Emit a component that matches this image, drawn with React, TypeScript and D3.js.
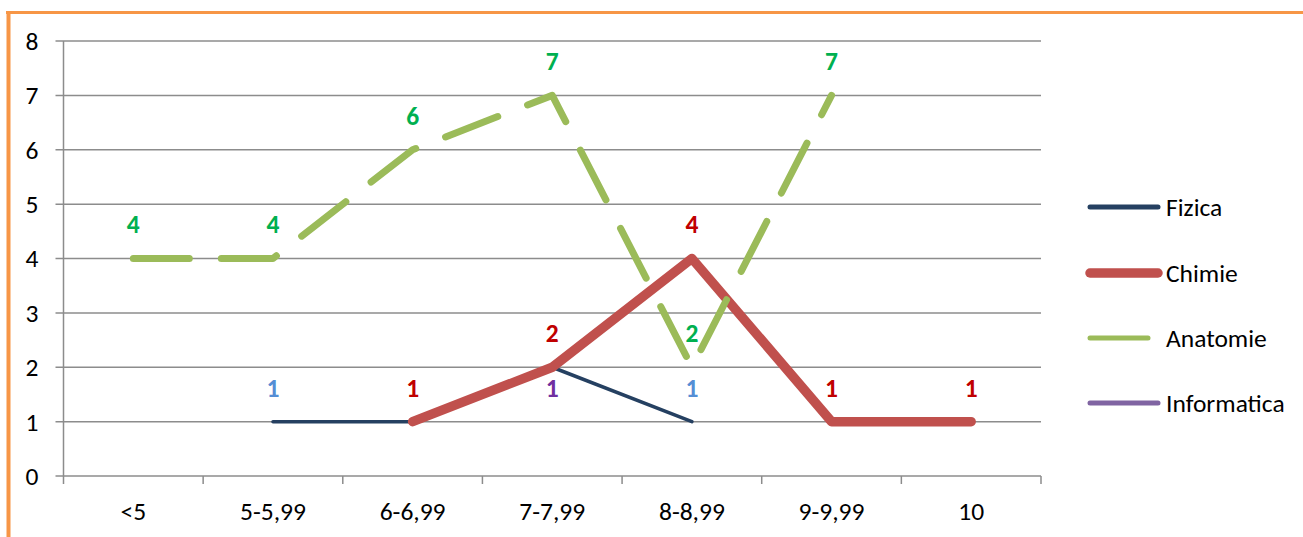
import React from "react";
import * as d3 from "d3";

const categories = ["<5", "5-5,99", "6-6,99", "7-7,99", "8-8,99", "9-9,99", "10"];
const fizica: (number | null)[] = [null, 1, 1, 2, 1, null, null];
const chimie: (number | null)[] = [null, null, 1, 2, 4, 1, 1];
const anatomie: (number | null)[] = [4, 4, 6, 7, 2, 7, null];
const informatica: (number | null)[] = [null, null, null, 1, null, null, null];
const fizicaLabels = [false, true, false, false, true, false, false];
const chimieLabels = [false, false, true, true, true, true, true];
const anatomieLabels = [true, true, true, true, true, true, false];
const informaticaLabels = [false, false, false, true, false, false, false];
const yTicks = [0, 1, 2, 3, 4, 5, 6, 7, 8];

const series = [
  { name: "Fizica", values: fizica, labels: fizicaLabels, color: "#254061", labelColor: "#558ED5", width: 3.5, dash: "" },
  { name: "Chimie", values: chimie, labels: chimieLabels, color: "#C0504D", labelColor: "#C00000", width: 9.5, dash: "" },
  { name: "Anatomie", values: anatomie, labels: anatomieLabels, color: "#9BBB59", labelColor: "#00B050", width: 7, dash: "56 32" },
  { name: "Informatica", values: informatica, labels: informaticaLabels, color: "#8064A2", labelColor: "#7030A0", width: 5, dash: "" },
];

export default function App() {
  const W = 1303, H = 537;
  const left = 63.5, right = 1041, top = 41, bottom = 476;
  const x = d3.scaleBand<string>().domain(categories).range([left, right]);
  const y = d3.scaleLinear().domain([0, 8]).range([bottom, top]);
  const cx = (i: number) => (x(categories[i]) as number) + x.bandwidth() / 2;
  const line = d3
    .line<number | null>()
    .defined((d) => d !== null)
    .x((_, i) => cx(i))
    .y((d) => y(d as number));
  const font = "Carlito, Lato, 'Liberation Sans', sans-serif";
  const fs = 25.5;
  const legendY = [207, 273, 338, 403];

  return (
    <svg width={W} height={H} style={{ position: "absolute", left: 0, top: 0 }} fontFamily={font}>
      <rect x={0} y={0} width={W} height={H} fill="#fff" />
      {/* orange border */}
      <line x1={6} x2={W} y1={12.5} y2={12.5} stroke="#F79646" strokeWidth={3} />
      <line x1={8.5} x2={8.5} y1={11} y2={H} stroke="#F79646" strokeWidth={4} />
      {/* gridlines */}
      {yTicks.map((t) => (
        <g key={t}>
          <line x1={left - 8} x2={right} y1={y(t)} y2={y(t)} stroke="#8C8C8C" strokeWidth={1.5} />
          <text x={32} y={y(t)} dy="0.35em" textAnchor="middle" fontSize={fs} fill="#000">
            {t}
          </text>
        </g>
      ))}
      <line x1={left} x2={left} y1={top} y2={bottom + 8} stroke="#8C8C8C" strokeWidth={1.5} />
      {categories.map((c, i) => (
        <g key={c}>
          <line
            x1={(x(c) as number) + x.bandwidth()}
            x2={(x(c) as number) + x.bandwidth()}
            y1={bottom}
            y2={bottom + 8}
            stroke="#8C8C8C"
            strokeWidth={1.5}
          />
          <text x={cx(i)} y={511} dy="0.35em" textAnchor="middle" fontSize={fs} fill="#000">
            {c}
          </text>
        </g>
      ))}
      {/* lines */}
      {series
        .filter((s) => s.values.filter((v) => v !== null).length > 1)
        .map((s) => (
          <path
            key={s.name}
            d={line(s.values) || ""}
            fill="none"
            stroke={s.color}
            strokeWidth={s.width}
            strokeDasharray={s.dash || undefined}
            strokeLinecap="round"
            strokeLinejoin="round"
          />
        ))}
      {/* data labels */}
      {series.map((s) =>
        s.values.map((v, i) =>
          v !== null && s.labels[i] ? (
            <text
              key={s.name + i}
              x={cx(i)}
              y={y(v) - 34}
              dy="0.35em"
              textAnchor="middle"
              fontSize={fs}
              fontWeight="bold"
              fill={s.labelColor}
            >
              {v}
            </text>
          ) : null
        )
      )}
      {/* legend */}
      {series.map((s, i) => (
        <g key={s.name}>
          <line
            x1={1090}
            x2={s.name === "Anatomie" ? 1148 : 1158}
            y1={legendY[i]}
            y2={legendY[i]}
            stroke={s.color}
            strokeWidth={s.name === "Chimie" ? 9.5 : 5}
            strokeLinecap="round"
          />
          <text x={1166} y={legendY[i]} dy="0.35em" fontSize={fs} fill="#000">
            {s.name}
          </text>
        </g>
      ))}
    </svg>
  );
}
